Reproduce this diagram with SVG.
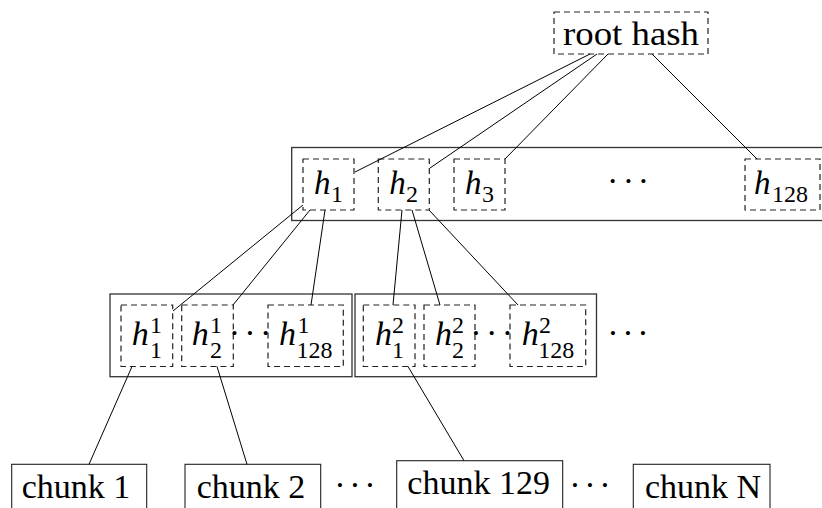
<svg xmlns="http://www.w3.org/2000/svg" width="822" height="508" viewBox="0 0 822 508">
<style>
.bg{fill:#fff}
.dash{fill:none;stroke:#222;stroke-width:1.2;stroke-dasharray:6 4}
.box{fill:none;stroke:#333;stroke-width:1.3}
.cbox{fill:none;stroke:#222;stroke-width:1.1}
.edge{stroke:#000;stroke-width:1;fill:none}
.t{font-family:"Liberation Serif","DejaVu Serif",serif;fill:#000}
.rm{font-size:34px}
.h2{font-size:33px;font-style:italic}
.h3{font-size:34px;font-style:italic}
.s{font-size:24px}
.dots{font-family:"Liberation Serif",serif;font-size:34px;text-anchor:middle;fill:#000}
</style>
<rect class="bg" x="0" y="0" width="822" height="508"/>

<g id="root">
<rect class="dash" x="554" y="12" width="154" height="42"/>
<text class="t rm" x="631" y="45" text-anchor="middle" textLength="136" lengthAdjust="spacingAndGlyphs">root hash</text>
</g>

<g id="level1">
<rect class="box" x="291.7" y="147.5" width="540" height="73"/>
<g id="h1">
<rect class="dash" x="303" y="159" width="51" height="51"/>
<text class="t h2" x="314" y="194">h</text><text class="t s" x="331" y="202">1</text>
</g>
<g id="h2">
<rect class="dash" x="378.3" y="159" width="51" height="51"/>
<text class="t h2" x="389.3" y="194">h</text><text class="t s" x="406" y="202">2</text>
</g>
<g id="h3">
<rect class="dash" x="454" y="159" width="51" height="51"/>
<text class="t h2" x="465" y="194">h</text><text class="t s" x="482" y="202">3</text>
</g>
<text class="dots" x="612.7 628.3 643.3" y="192">···</text>
<g id="h128">
<rect class="dash" x="745" y="159" width="75" height="51"/>
<text class="t h2" x="754" y="194">h</text><text class="t s" x="772" y="202">128</text>
</g>
</g>

<g id="block1">
<rect class="box" x="110" y="294" width="242" height="82.7"/>
<g id="h1_1">
<rect class="dash" x="121" y="305" width="51.7" height="61.5"/>
<text class="t h3" x="131.7" y="345">h</text><text class="t s" x="150" y="333">1</text><text class="t s" x="150" y="358">1</text>
</g>
<g id="h1_2">
<rect class="dash" x="181.7" y="305" width="51.6" height="61.5"/>
<text class="t h3" x="191.7" y="345">h</text><text class="t s" x="210" y="333">1</text><text class="t s" x="210" y="358">2</text>
</g>
<text class="dots" x="234.3 250 265.7" y="344">···</text>
<g id="h1_128">
<rect class="dash" x="268" y="305" width="75.3" height="61.5"/>
<text class="t h3" x="279" y="345">h</text><text class="t s" x="297.5" y="333">1</text><text class="t s" x="296.5" y="358">128</text>
</g>
</g>

<g id="block2">
<rect class="box" x="355" y="294" width="241.5" height="82.7"/>
<g id="h2_1">
<rect class="dash" x="363.3" y="305" width="51.7" height="61.5"/>
<text class="t h3" x="375" y="345">h</text><text class="t s" x="392" y="333">2</text><text class="t s" x="392" y="358">1</text>
</g>
<g id="h2_2">
<rect class="dash" x="424" y="305" width="51" height="61.5"/>
<text class="t h3" x="435" y="345">h</text><text class="t s" x="452" y="333">2</text><text class="t s" x="452" y="358">2</text>
</g>
<text class="dots" x="476 491.7 507.3" y="344">···</text>
<g id="h2_128">
<rect class="dash" x="510" y="305" width="75.7" height="61.5"/>
<text class="t h3" x="521.7" y="345">h</text><text class="t s" x="539" y="333">2</text><text class="t s" x="538.3" y="358">128</text>
</g>
</g>
<text class="dots" x="613 628 643" y="344">···</text>

<g id="chunk1">
<rect class="cbox" x="11.7" y="464.3" width="135" height="60"/>
<text class="t rm" x="21.7" y="498">chunk 1</text>
</g>
<g id="chunk2">
<rect class="cbox" x="185" y="464.3" width="135.7" height="60"/>
<text class="t rm" x="196.7" y="498">chunk 2</text>
</g>
<text class="dots" x="340 355 370" y="495.5">···</text>
<g id="chunk129">
<rect class="cbox" x="396.7" y="460.7" width="166" height="60"/>
<text class="t rm" x="407.3" y="493.5">chunk 129</text>
</g>
<text class="dots" x="575 590 605" y="495.5">···</text>
<g id="chunkN">
<rect class="cbox" x="633.3" y="464.3" width="136.7" height="60"/>
<text class="t rm" x="645" y="498">chunk N</text>
</g>

<g id="connectors">
<line class="edge" x1="590" y1="54" x2="355" y2="172"/>
<line class="edge" x1="597" y1="54" x2="430" y2="168"/>
<line class="edge" x1="608" y1="54" x2="505" y2="159"/>
<line class="edge" x1="652" y1="54" x2="757" y2="159"/>
<line class="edge" x1="303" y1="205" x2="173" y2="311"/>
<line class="edge" x1="310" y1="210" x2="233" y2="305"/>
<line class="edge" x1="325" y1="210" x2="311" y2="305"/>
<line class="edge" x1="402" y1="210" x2="393" y2="305"/>
<line class="edge" x1="412" y1="210" x2="440" y2="305"/>
<line class="edge" x1="429" y1="210" x2="518" y2="305"/>
<line class="edge" x1="132" y1="366.5" x2="89" y2="464.3"/>
<line class="edge" x1="217" y1="366.5" x2="247" y2="464.3"/>
<line class="edge" x1="408" y1="366.5" x2="464" y2="460.7"/>
</g>
</svg>
